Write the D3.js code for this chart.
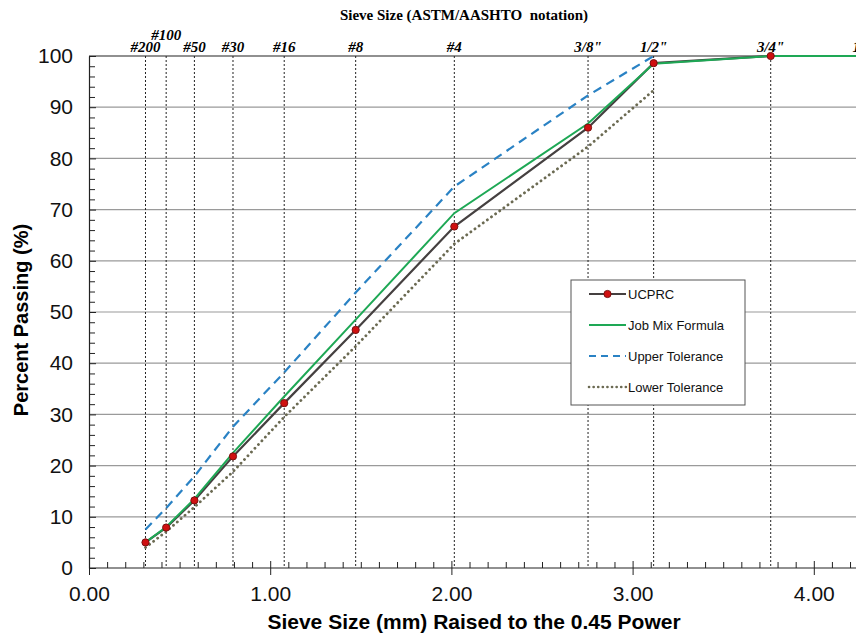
<!DOCTYPE html>
<html>
<head>
<meta charset="utf-8">
<script src="https://cdn.jsdelivr.net/npm/d3@7"></script>
<style>
  body { margin: 0; background: #fff; }
  svg { display: block; }
  .tick text { font-family: "Liberation Sans", Arial, sans-serif; }
</style>
</head>
<body>
<div id="chart"></div>
<script>
// gradation chart, sieve size^0.45 on x

var svgWidth = 856;
var svgHeight = 633;

var margin = { top: 56, right: 0, bottom: 65, left: 89 };
var height = svgHeight - margin.top - margin.bottom;

// sieves (ASTM/AASHTO) and opening size in mm
var sieveLabels = ["#200", "#100", "#50", "#30", "#16", "#8", "#4", "3/8\"", "1/2\"", "3/4\"", "1\""];
var sieveMm = [0.075, 0.15, 0.3, 0.6, 1.18, 2.36, 4.75, 9.5, 12.5, 19, 25];

// percent passing
var ucprc = [5.0, 7.9, 13.2, 21.8, 32.2, 46.5, 66.7, 86.0, 98.6, 100];
var jobMix = [5.0, 8.0, 13.5, 22.5, 33.5, 48.5, 69.3, 86.8, 98.5, 100, 100];
var upperTol = [7.5, 11.7, 17.9, 27.6, 38.2, 53.8, 74.5, 92.3, 100];
var lowerTol = [4.0, 7.1, 11.9, 18.8, 29.5, 43.3, 63.3, 82.3, 93.3];

var xMajor = [0, 1, 2, 3, 4];
var yMajor = [0, 10, 20, 30, 40, 50, 60, 70, 80, 90, 100];

var sieveX = sieveMm.map(d => Math.pow(d, 0.45));

var svg = d3.select("#chart")
  .append("svg")
  .attr("width", svgWidth)
  .attr("height", svgHeight);

var xScale = d3.scaleLinear()
  .domain([0, 4.3])
  .range([margin.left, margin.left + 4.3 * 181.2]);

var yScale = d3.scaleLinear()
  .domain([0, 100])
  .range([margin.top + height, margin.top]);

// horizontal grid
svg.append("g")
  .selectAll("line")
  .data(yMajor.filter(d => d > 0 && d < 100))
  .enter()
  .append("line")
  .attr("x1", margin.left)
  .attr("x2", svgWidth)
  .attr("y1", d => yScale(d))
  .attr("y2", d => yScale(d))
  .attr("stroke", "#9a9a9a")
  .attr("stroke-width", 1.2);

// top border
svg.append("line")
  .attr("x1", margin.left)
  .attr("x2", svgWidth)
  .attr("y1", yScale(100))
  .attr("y2", yScale(100))
  .attr("stroke", "#222")
  .attr("stroke-width", 1.2);

// sieve verticals
svg.append("g")
  .selectAll("line")
  .data(sieveX)
  .enter()
  .append("line")
  .attr("x1", d => xScale(d))
  .attr("x2", d => xScale(d))
  .attr("y1", yScale(100))
  .attr("y2", yScale(0))
  .attr("stroke", "#222")
  .attr("stroke-width", 1)
  .attr("stroke-dasharray", "2,2");

// sieve labels on top
svg.append("g")
  .selectAll("text")
  .data(sieveLabels)
  .enter()
  .append("text")
  .attr("x", (d, i) => xScale(sieveX[i]))
  .attr("y", (d, i) => i == 1 ? 40 : 52)
  .attr("text-anchor", "middle")
  .style("font-family", "'Liberation Serif', 'Times New Roman', serif")
  .style("font-weight", "bold")
  .style("font-style", "italic")
  .style("font-size", "15px")
  .text(d => d);

svg.append("text")
  .attr("x", 464)
  .attr("y", 20)
  .attr("text-anchor", "middle")
  .style("font-family", "'Liberation Serif', 'Times New Roman', serif")
  .style("font-weight", "bold")
  .style("font-size", "15px")
  .style("white-space", "pre")
  .text("Sieve Size (ASTM/AASHTO  notation)");

// x axis: minor ticks point up, majors cross
var xMinor = d3.range(0, 43).map(i => i / 10).filter(d => Math.abs(d - Math.round(d)) > 0.01);
svg.append("g")
  .attr("transform", `translate(0, ${yScale(0)})`)
  .call(d3.axisBottom(xScale).tickValues(xMinor).tickSize(-6).tickFormat(""))
  .call(g => g.select(".domain").remove())
  .selectAll("line").attr("stroke", "#222");

var xAxis = svg.append("g")
  .attr("transform", `translate(0, ${yScale(0)})`)
  .call(d3.axisBottom(xScale).tickValues(xMajor).tickSize(7).tickSizeOuter(0).tickFormat(d3.format(".2f")));
xAxis.select(".domain").attr("d", `M${margin.left},0H${svgWidth}`).attr("stroke", "#222").attr("stroke-width", 1.2);
xAxis.selectAll(".tick line").attr("y1", -7).attr("stroke", "#222");
xAxis.selectAll(".tick text")
  .attr("y", 18)
  .style("font-size", "21px")
  .attr("fill", "#111");

// y axis: minor every 2 pointing right
var yMinor = d3.range(0, 101, 2).filter(d => d % 10 != 0);
svg.append("g")
  .attr("transform", `translate(${margin.left}, 0)`)
  .call(d3.axisLeft(yScale).tickValues(yMinor).tickSize(-6).tickFormat(""))
  .call(g => g.select(".domain").remove())
  .selectAll("line").attr("stroke", "#222");

var yAxis = svg.append("g")
  .attr("transform", `translate(${margin.left}, 0)`)
  .call(d3.axisLeft(yScale).tickValues(yMajor).tickSize(6).tickSizeOuter(0));
yAxis.select(".domain").attr("stroke", "#222").attr("stroke-width", 1.2);
yAxis.selectAll(".tick line").attr("x2", 7).attr("stroke", "#222");
yAxis.selectAll(".tick text")
  .attr("x", -16)
  .style("font-size", "21px")
  .attr("fill", "#111");

// axis titles
svg.append("text")
  .attr("x", 474)
  .attr("y", 629)
  .attr("text-anchor", "middle")
  .style("font-family", "'Liberation Sans', Arial, sans-serif")
  .style("font-weight", "bold")
  .style("font-size", "21px")
  .text("Sieve Size (mm) Raised to the 0.45 Power");

svg.append("text")
  .attr("transform", "translate(28, 320) rotate(-90)")
  .attr("text-anchor", "middle")
  .style("font-family", "'Liberation Sans', Arial, sans-serif")
  .style("font-weight", "bold")
  .style("font-size", "20px")
  .text("Percent Passing (%)");

// series
var line = d3.line()
  .x(d => xScale(d[0]))
  .y(d => yScale(d[1]));

function pairs(vals) {
  return vals.map((v, i) => [sieveX[i], v]);
}

svg.append("path")
  .datum(pairs(lowerTol))
  .attr("d", line)
  .attr("fill", "none")
  .attr("stroke", "#6b6a52")
  .attr("stroke-width", 2.8)
  .attr("stroke-linecap", "round")
  .attr("stroke-dasharray", "0.1,5");

svg.append("path")
  .datum(pairs(upperTol))
  .attr("d", line)
  .attr("fill", "none")
  .attr("stroke", "#2a82c4")
  .attr("stroke-width", 2.2)
  .attr("stroke-dasharray", "9,6");

svg.append("path")
  .datum(pairs(ucprc))
  .attr("d", line)
  .attr("fill", "none")
  .attr("stroke", "#454040")
  .attr("stroke-width", 2.2);

svg.append("path")
  .datum(pairs(jobMix))
  .attr("d", line)
  .attr("fill", "none")
  .attr("stroke", "#1ea855")
  .attr("stroke-width", 2);

svg.append("g")
  .selectAll("circle")
  .data(pairs(ucprc))
  .enter()
  .append("circle")
  .attr("cx", d => xScale(d[0]))
  .attr("cy", d => yScale(d[1]))
  .attr("r", 3.6)
  .attr("fill", "#d01010")
  .attr("stroke", "#7a1010")
  .attr("stroke-width", 1);

// legend
var legend = svg.append("g").attr("transform", "translate(571, 280)");
legend.append("rect")
  .attr("width", 174)
  .attr("height", 125)
  .attr("fill", "#fff")
  .attr("stroke", "#555")
  .attr("stroke-width", 1);

var legendItems = [
  { name: "UCPRC", color: "#454040", dash: null, width: 2, marker: true },
  { name: "Job Mix Formula", color: "#1ea855", dash: null, width: 2, marker: false },
  { name: "Upper Tolerance", color: "#2a82c4", dash: "7,5", width: 2, marker: false },
  { name: "Lower Tolerance", color: "#6b6a52", dash: "0.1,4.5", width: 2.6, marker: false }
];

var rows = legend.selectAll(".row")
  .data(legendItems)
  .enter()
  .append("g")
  .attr("transform", (d, i) => `translate(0, ${14 + i * 31})`);

rows.append("line")
  .attr("x1", 18)
  .attr("x2", 55)
  .attr("stroke", d => d.color)
  .attr("stroke-width", d => d.width)
  .attr("stroke-linecap", d => d.dash && d.dash.startsWith("0.1") ? "round" : "butt")
  .attr("stroke-dasharray", d => d.dash);

rows.filter(d => d.marker)
  .append("circle")
  .attr("cx", 36.5)
  .attr("r", 3.6)
  .attr("fill", "#d01010")
  .attr("stroke", "#7a1010");

rows.append("text")
  .attr("x", 57)
  .attr("dy", "0.35em")
  .style("font-family", "'Liberation Sans', Arial, sans-serif")
  .style("font-size", "13px")
  .attr("fill", "#111")
  .text(d => d.name);
</script>
</body>
</html>
